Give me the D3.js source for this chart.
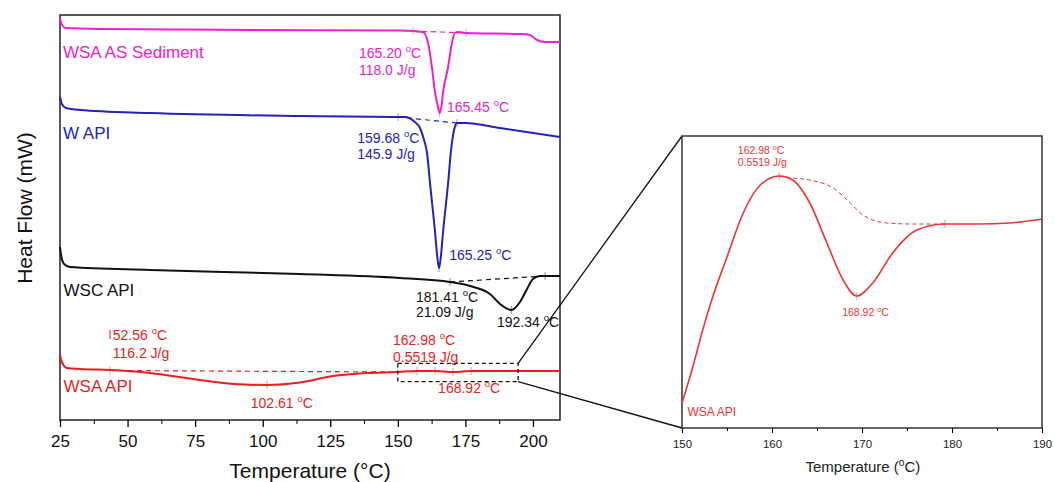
<!DOCTYPE html>
<html>
<head>
<meta charset="utf-8">
<script src="https://d3js.org/d3.v7.min.js"></script>
<style>
  body { margin: 0; background: #fff; }
  svg { font-family: "Liberation Sans", Arial, sans-serif; }
</style>
</head>
<body>
<script>
// DSC traces, temperature (°C) vs relative heat flow (mW, offset per sample)
var sedimentT  = [25.0, 25.7, 27.2, 39.8, 95.3, 150.8, 155.6, 159.3, 161.2, 162.6, 163.8, 164.7, 165.45, 166.2, 166.7, 168.6, 170.0, 171.1, 172.3, 175.2, 195.2, 198.9, 201.5, 204.5, 210];
var sedimentHF = [80.4, 79.0, 78.4, 78.2, 78.0, 77.9, 77.8, 77.6, 75.4, 70.6, 65.4, 63.0, 61.4, 63.0, 65.4, 70.6, 75.4, 77.4, 77.6, 77.4, 77.2, 77.0, 76.0, 75.6, 75.6];

var wApiT  = [25.0, 25.7, 27.2, 32.4, 58.3, 113.8, 152.6, 156.3, 158.2, 159.7, 160.8, 161.9, 163.8, 164.6, 165.25, 165.9, 166.7, 168.6, 169.7, 170.8, 171.9, 174.9, 187.8, 210];
var wApiHF = [64.6, 63.2, 62.4, 62.0, 61.4, 60.8, 60.6, 59.6, 58.4, 56.0, 53.4, 47.4, 37.4, 32.6, 30.4, 32.6, 37.4, 47.4, 54.0, 58.0, 59.4, 59.4, 58.4, 56.6];

var wscT  = [25.0, 25.4, 26.5, 28.7, 58.3, 113.8, 150.8, 169.3, 176.7, 184.1, 187.8, 192.0, 195.2, 197.8, 200.0, 202.6, 210];
var wscHF = [34.6, 33.0, 31.2, 30.6, 30.0, 29.2, 28.4, 27.6, 26.8, 25.2, 23.2, 22.0, 23.6, 26.2, 28.2, 28.8, 28.8];

var wsaT  = [25.0, 25.7, 27.6, 32.4, 43.5, 58.3, 76.8, 89.0, 101.6, 113.8, 126.0, 138.6, 149.7, 157.1, 163.75, 167.0, 170.4, 177.1, 210];
var wsaHF = [13.0, 11.6, 10.4, 10.2, 10.0, 9.4, 8.0, 7.2, 7.0, 7.5, 8.8, 9.4, 9.6, 9.8, 9.8, 9.7, 9.6, 9.8, 9.8];

// integration baselines (dashed)
var sedimentBaseT = [155.6, 175.2], sedimentBaseHF = [77.8, 77.4];
var wApiBaseT = [150.1, 171.9],     wApiBaseHF = [60.6, 59.4];
var wscBaseT = [169.3, 204.5],      wscBaseHF = [27.6, 28.8];
var wsaBaseT = [43.5, 149.7],       wsaBaseHF = [9.9, 9.6];

// zoomed WSA API segment
var insetT  = [150.0, 151.2, 152.3, 153.3, 155.0, 156.8, 158.7, 160.8, 162.3, 164.2, 166.1, 167.9, 169.4, 171.2, 173.4, 176.1, 179.2, 182.8, 186.4, 190.0];
var insetHF = [2.5, 6.1, 9.8, 12.8, 17.1, 21.5, 24.3, 25.2, 24.8, 22.5, 18.5, 14.8, 13.2, 14.5, 17.5, 19.8, 20.4, 20.4, 20.5, 20.9];
var insetBaseT  = [160.8, 162.3, 164.2, 166.8, 168.7, 170.1, 172.8, 175.7, 179.2];
var insetBaseHF = [25.2, 25.0, 24.8, 24.0, 22.5, 21.3, 20.5, 20.4, 20.4];

var mainTicks = [25, 50, 75, 100, 125, 150, 175, 200];
var mainMinor = [37.5, 62.5, 87.5, 112.5, 137.5, 162.5, 187.5];
var insetTicks = [150, 160, 170, 180, 190];
var insetMinor = [155, 165, 175, 185];

var MAGENTA = "#ee22cc", BLUE = "#2323bb", BLACK = "#111", RED = "#ea1d22", IRED = "#ee3434";

var svg = d3.select("body").append("svg").attr("width", 1055).attr("height", 482);

var x = d3.scaleLinear().domain([25, 210]).range([60, 560]);
var y = d3.scaleLinear().domain([0, 81]).range([420, 15]);
var ix = d3.scaleLinear().domain([150, 190]).range([682, 1042]);
var iy = d3.scaleLinear().domain([0, 29.2]).range([428, 136]);

function drawLine(xs, ys, T, HF, color, w, dash) {
  var line = d3.line().x(d => xs(d[0])).y(d => ys(d[1])).curve(d3.curveMonotoneX);
  svg.append("path")
    .datum(d3.zip(T, HF))
    .attr("d", line)
    .attr("fill", "none")
    .attr("stroke", color)
    .attr("stroke-width", w)
    .attr("stroke-dasharray", dash || null);
}

function marks(xs, ys, pts, color) {
  pts.forEach(function (p) {
    svg.append("line").attr("x1", xs(p[0])).attr("x2", xs(p[0]))
      .attr("y1", ys(p[1]) - 4).attr("y2", ys(p[1]) + 4)
      .attr("stroke", color).attr("stroke-width", 0.8).attr("opacity", 0.6);
  });
}

// label with superscript o before C
function label(xs, ys, t, v, str, color, size, anchor) {
  var tx = svg.append("text").attr("x", xs(t)).attr("y", ys(v))
    .attr("fill", color).attr("font-size", size).attr("text-anchor", anchor || "start");
  var parts = str.split("°C");
  tx.append("tspan").text(parts[0]);
  if (parts.length > 1) {
    tx.append("tspan").attr("dy", -size * 0.42).attr("font-size", size * 0.68).text("o");
    tx.append("tspan").attr("dy", size * 0.42).text("C" + parts[1]);
  }
}

// ---------- main plot ----------
svg.append("rect").attr("x", 60).attr("y", 15).attr("width", 500).attr("height", 405)
  .attr("fill", "none").attr("stroke", "#222").attr("stroke-width", 1.5);

var ax = svg.append("g").attr("transform", "translate(0,420)")
  .call(d3.axisBottom(x).tickValues(mainTicks).tickSize(7).tickSizeOuter(0).tickPadding(8));
ax.select(".domain").remove();
ax.selectAll("text").attr("font-size", 17).attr("fill", "#111").attr("font-family", null);
ax.selectAll("line").attr("stroke-width", 1.3);
var axm = svg.append("g").attr("transform", "translate(0,420)")
  .call(d3.axisBottom(x).tickValues(mainMinor).tickSize(4).tickFormat(""));
axm.select(".domain").remove();

svg.append("text").attr("x", 310).attr("y", 478).attr("text-anchor", "middle")
  .attr("font-size", 21).attr("fill", "#111").text("Temperature (°C)");
svg.append("text").attr("transform", "translate(32,208) rotate(-90)").attr("text-anchor", "middle")
  .attr("font-size", 21).attr("fill", "#111").text("Heat Flow (mW)");

drawLine(x, y, sedimentBaseT, sedimentBaseHF, MAGENTA, 1.2, "5,4");
drawLine(x, y, wApiBaseT, wApiBaseHF, BLUE, 1.2, "5,4");
drawLine(x, y, wscBaseT, wscBaseHF, BLACK, 1.2, "5,4");
drawLine(x, y, wsaBaseT, wsaBaseHF, RED, 1.2, "5,4");

drawLine(x, y, sedimentT, sedimentHF, MAGENTA, 2);
drawLine(x, y, wApiT, wApiHF, BLUE, 2);
drawLine(x, y, wscT, wscHF, BLACK, 2);
drawLine(x, y, wsaT, wsaHF, RED, 2);

marks(x, y, [[155.6, 77.8], [175.2, 77.4], [165.45, 61.4]], MAGENTA);
marks(x, y, [[150.1, 60.6], [171.9, 59.4], [165.25, 30.4]], BLUE);
marks(x, y, [[169.3, 27.6], [204.5, 28.8], [192.0, 22.0]], BLACK);
marks(x, y, [[43.5, 9.9], [101.6, 7.0], [157.1, 9.8], [163.75, 9.8], [170.4, 9.6], [177.1, 9.8]], RED);

label(x, y, 26.1, 72.4, "WSA AS Sediment", MAGENTA, 17);
label(x, y, 135.6, 72.4, "165.20 °C", MAGENTA, 14);
label(x, y, 135.6, 69.0, "118.0 J/g", MAGENTA, 14);
label(x, y, 168.2, 61.6, "165.45 °C", MAGENTA, 14);

label(x, y, 26.1, 56.2, "W API", BLUE, 17);
label(x, y, 135.0, 55.4, "159.68 °C", BLUE, 14);
label(x, y, 135.0, 52.2, "145.9 J/g", BLUE, 14);
label(x, y, 169.0, 32.0, "165.25 °C", BLUE, 14);

label(x, y, 26.3, 24.8, "WSC API", BLACK, 17);
label(x, y, 156.7, 23.6, "181.41 °C", BLACK, 14);
label(x, y, 156.7, 20.6, "21.09 J/g", BLACK, 14);
label(x, y, 186.7, 18.6, "192.34 °C", BLACK, 14);

label(x, y, 44.5, 16.0, "52.56 °C", RED, 14);
svg.append("line").attr("x1", x(43.5)).attr("x2", x(43.5)).attr("y1", y(18.0)).attr("y2", y(16.2))
  .attr("stroke", RED).attr("stroke-width", 1);
label(x, y, 44.5, 12.4, "116.2 J/g", RED, 14);
label(x, y, 26.3, 5.6, "WSA API", RED, 17);
label(x, y, 95.6, 2.4, "102.61 °C", RED, 14);
label(x, y, 148.2, 15.0, "162.98 °C", RED, 14);
label(x, y, 148.2, 11.6, "0.5519 J/g", RED, 14);
label(x, y, 164.9, 5.4, "168.92 °C", RED, 14);

// zoom box and connectors
var boxT = [150, 194.5], boxHF = [7.67, 11.33];
svg.append("rect").attr("x", x(boxT[0])).attr("y", y(boxHF[1]))
  .attr("width", x(boxT[1]) - x(boxT[0])).attr("height", y(boxHF[0]) - y(boxHF[1]))
  .attr("fill", "none").attr("stroke", "#111").attr("stroke-width", 1.3).attr("stroke-dasharray", "4,3");
svg.append("line").attr("x1", x(boxT[1])).attr("y1", y(boxHF[1])).attr("x2", ix(150)).attr("y2", iy(29.2))
  .attr("stroke", "#111").attr("stroke-width", 1.3);
svg.append("line").attr("x1", x(boxT[1])).attr("y1", y(boxHF[0])).attr("x2", ix(150)).attr("y2", iy(0))
  .attr("stroke", "#111").attr("stroke-width", 1.3);

// ---------- inset ----------
svg.append("rect").attr("x", 682).attr("y", 136).attr("width", 360).attr("height", 292)
  .attr("fill", "#fff").attr("stroke", "#333").attr("stroke-width", 1.5);

var iax = svg.append("g").attr("transform", "translate(0,428)")
  .call(d3.axisBottom(ix).tickValues(insetTicks).tickSize(5).tickSizeOuter(0).tickPadding(7));
iax.select(".domain").remove();
iax.selectAll("text").attr("font-size", 11.5).attr("fill", "#222").attr("font-family", null);
var iaxm = svg.append("g").attr("transform", "translate(0,428)")
  .call(d3.axisBottom(ix).tickValues(insetMinor).tickSize(3).tickFormat(""));
iaxm.select(".domain").remove();

label(ix, iy, 170.1, -4.4, "Temperature (°C)", "#222", 15, "middle");

drawLine(ix, iy, insetBaseT, insetBaseHF, IRED, 1, "4,3");
drawLine(ix, iy, insetT, insetHF, IRED, 1.6);
marks(ix, iy, [[160.8, 25.2], [169.4, 13.2], [179.2, 20.4]], IRED);

label(ix, iy, 156.2, 27.4, "162.98 °C", IRED, 10.5);
label(ix, iy, 156.2, 26.2, "0.5519 J/g", IRED, 10.5);
label(ix, iy, 167.8, 11.2, "168.92 °C", IRED, 10.5);
label(ix, iy, 150.6, 1.2, "WSA API", IRED, 12);
</script>
</body>
</html>
